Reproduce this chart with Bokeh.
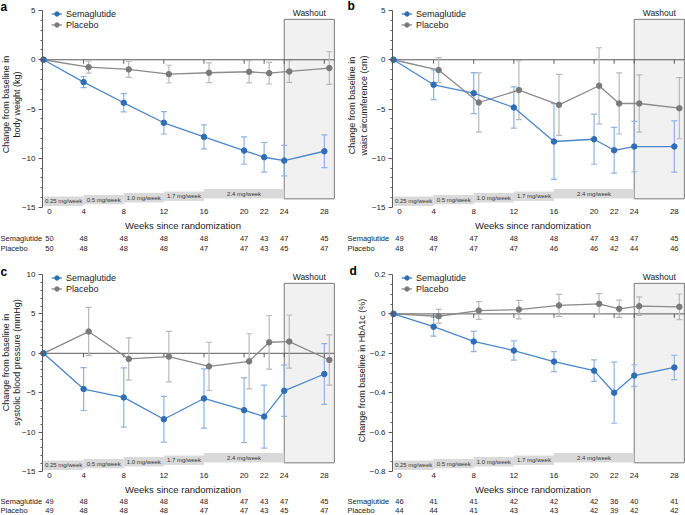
import math
from bokeh.plotting import figure
from bokeh.layouts import column, row
from bokeh.models import (ColumnDataSource, FixedTicker, Whisker, TeeHead, Range1d, LinearAxis)
from bokeh.embed import file_html
from bokeh.resources import INLINE
from bokeh.core.properties import value

FONT = "Liberation Sans"

# ---------------- data ----------------
weeks = [0, 4, 8, 12, 16, 20, 22, 24, 28]
dose_labels = ["0.25 mg/week", "0.5 mg/week", "1.0 mg/week", "1.7 mg/week", "2.4 mg/week"]
dose_start = [0, 4, 8, 12, 16]
dose_end = [4, 8, 12, 16, 24]
washout_start = 24
washout_end = 29

# a: body weight (kg)
a_sema = [0, -2.27, -4.37, -6.4, -7.83, -9.22, -9.9, -10.24, -9.29]
a_sema_ci = [0, 0.57, 0.93, 1.14, 1.22, 1.39, 1.5, 1.55, 1.66]
a_plac = [0, -0.75, -0.98, -1.46, -1.32, -1.22, -1.36, -1.19, -0.85]
a_plac_ci = [0, 0.6, 0.8, 0.9, 1.0, 1.13, 1.1, 1.1, 1.66]
a_n_sema = [50, 48, 48, 48, 48, 47, 43, 47, 45]
a_n_plac = [50, 48, 48, 48, 47, 47, 43, 45, 47]

# b: waist circumference (cm)
b_sema = [0, -2.54, -3.39, -4.85, -8.3, -8.07, -9.19, -8.81, -8.81]
b_sema_ci = [0, 1.5, 2.08, 2.1, 3.85, 2.54, 2.32, 2.56, 2.6]
b_plac = [0, -1.05, -4.34, -3.08, -4.58, -2.64, -4.44, -4.44, -4.92]
b_plac_ci = [0, 1.27, 3.0, 3.0, 3.1, 3.86, 3.1, 2.9, 3.1]
b_n_sema = [49, 48, 47, 48, 48, 47, 43, 47, 45]
b_n_plac = [48, 47, 47, 47, 46, 46, 42, 44, 46]

# c: systolic blood pressure (mmHg)
c_sema = [0, -4.54, -5.6, -8.37, -5.73, -7.22, -8.03, -4.76, -2.63]
c_sema_ci = [0, 2.72, 3.76, 2.9, 3.76, 4.1, 4.0, 3.25, 3.86]
c_plac = [0, 2.76, -0.72, -0.42, -1.66, -1.02, 1.4, 1.49, -0.85]
c_plac_ci = [0, 3.06, 2.68, 3.2, 3.06, 3.5, 3.4, 3.37, 3.2]
c_n_sema = [49, 48, 48, 48, 48, 47, 43, 47, 45]
c_n_plac = [49, 48, 48, 48, 47, 47, 43, 45, 47]

# d: HbA1c (%)
d_sema = [0, -0.065, -0.14, -0.186, -0.242, -0.288, -0.40, -0.313, -0.272]
d_sema_ci = [0, 0.048, 0.051, 0.049, 0.051, 0.055, 0.155, 0.055, 0.062]
d_plac = [0, -0.012, 0.017, 0.022, 0.043, 0.051, 0.026, 0.039, 0.036]
d_plac_ci = [0, 0.035, 0.045, 0.047, 0.056, 0.052, 0.044, 0.047, 0.065]
d_n_sema = [46, 41, 41, 42, 42, 42, 36, 40, 41]
d_n_plac = [44, 44, 41, 43, 43, 42, 39, 42, 42]

SEMA_LINE = "#4a86c8"
SEMA_PT = "#2f6db5"
SEMA_ERR = "#8db4e2"
PLAC_LINE = "#8a8a8a"
PLAC_PT = "#7a7a7a"
PLAC_ERR = "#b9b9b9"
AXIS = "#5a5a5a"
TXT = "#222222"

PX_PER_WEEK = 10.03
PLOT_H = 197


def make_panel(letter, ylabel, ymin, ymax, major, minor, sema, sema_ci, plac, plac_ci,
               n_sema, n_plac, W, H, x0px, top_px, ylab_pos, letter_pos, name_px, n_offs):
    rng = ymax - ymin
    sx = PX_PER_WEEK
    sy = PLOT_H / rng

    def X(px):
        return (px - x0px) / sx

    def Y(py):
        return ymax - (py - top_px) / sy

    bottom_px = top_px + PLOT_H
    p = figure(frame_width=W, frame_height=H, x_range=Range1d(X(0), X(W)),
               y_range=Range1d(Y(H), Y(0)), min_border=0,
               x_axis_location=None, y_axis_location=None,
               output_backend="svg", toolbar_location=None, outline_line_color=None)
    p.grid.visible = False

    # washout box
    p.quad(left=[washout_start], right=[washout_end], bottom=[ymin + 0.044 * rng],
           top=[ymin + 0.955 * rng], fill_color="#f1f1f1", line_color="#7a7a7a",
           line_width=1, level="image")
    p.text(x=[(washout_start + washout_end) / 2], y=[ymin + 0.962 * rng], text=["Washout"],
           text_align="center", text_baseline="bottom", text_font=value(FONT),
           text_font_size="8.5px", text_color=TXT)

    # dose escalation bars
    frac_b = [0.008, 0.016, 0.025, 0.033, 0.046]
    bots = [ymin + f * rng for f in frac_b]
    tops = [b + 0.048 * rng for b in bots]
    p.quad(left=dose_start, right=dose_end, bottom=bots, top=tops,
           fill_color="#d9d9d9", line_color=None, level="image")
    p.text(x=[(s + e) / 2 for s, e in zip(dose_start, dose_end)],
           y=[(b + t) / 2 for b, t in zip(bots, tops)], text=dose_labels,
           text_align="center", text_baseline="middle", text_font=value(FONT),
           text_font_size="6px", text_color="#333333")

    # zero line and its ticks
    p.segment(x0=[X(x0px - 1)], y0=[0], x1=[washout_end], y1=[0], line_color=AXIS,
              line_width=1, level="underlay")
    tick_len = 4.0 / sy
    p.segment(x0=weeks[1:], y0=[0] * (len(weeks) - 1), x1=weeks[1:],
              y1=[-tick_len] * (len(weeks) - 1), line_color=AXIS, line_width=1)

    xs_s = list(weeks)
    xs_p = [w + 0.5 if w > 0 else w for w in weeks]

    # error bars
    for xs, ys, ci, col in ((xs_p, plac, plac_ci, PLAC_ERR), (xs_s, sema, sema_ci, SEMA_ERR)):
        src = ColumnDataSource(dict(
            x=xs[1:], lo=[y - c for y, c in zip(ys[1:], ci[1:])],
            hi=[y + c for y, c in zip(ys[1:], ci[1:])]))
        w = Whisker(base="x", lower="lo", upper="hi", source=src, dimension="height",
                    line_color=col, line_width=1.2, level="underlay",
                    upper_head=TeeHead(size=6, line_color=col, line_width=1.2),
                    lower_head=TeeHead(size=6, line_color=col, line_width=1.2))
        p.add_layout(w)

    p.line(xs_p, plac, line_color=PLAC_LINE, line_width=1.3, legend_label="Placebo")
    p.scatter(xs_p, plac, size=5.5, fill_color=PLAC_PT, line_color=PLAC_PT,
              legend_label="Placebo")
    p.line(xs_s, sema, line_color=SEMA_LINE, line_width=1.3, legend_label="Semaglutide")
    p.scatter(xs_s, sema, size=5.5, fill_color=SEMA_PT, line_color=SEMA_PT,
              legend_label="Semaglutide")

    # legend
    lg = p.legend[0]
    lg.items = [lg.items[1], lg.items[0]]
    lg.location = (x0px + 8, H - (top_px - 2) - 22)
    lg.margin = 0
    lg.padding = 0
    lg.spacing = 0
    lg.label_height = 11
    lg.glyph_height = 11
    lg.glyph_width = 11
    lg.label_standoff = 4
    lg.label_text_font = FONT
    lg.label_text_font_size = "9px"
    lg.label_text_color = TXT
    lg.background_fill_alpha = 0
    lg.border_line_alpha = 0

    # y axis at week 0
    ya = LinearAxis(fixed_location=X(x0px - 1), bounds=(ymin, ymax))
    ya.ticker = FixedTicker(ticks=major, minor_ticks=minor)
    ya.major_label_overrides = {t: (("\u2212" + f"{abs(t):g}") if t < 0 else f"{t:g}")
                                for t in major}
    ya.axis_line_color = AXIS
    ya.major_tick_line_color = AXIS
    ya.minor_tick_line_color = AXIS
    ya.major_tick_in = 0
    ya.major_tick_out = 4
    ya.minor_tick_in = 0
    ya.minor_tick_out = 2
    ya.major_label_standoff = 3
    ya.major_label_text_font = FONT
    ya.major_label_text_font_size = "8px"
    ya.major_label_text_color = TXT
    p.add_layout(ya, "left")

    # x axis labels at the bottom of the plotting area
    xlab_pos = [0.6] + weeks[1:]
    xa = LinearAxis(fixed_location=ymin)
    xa.ticker = FixedTicker(ticks=xlab_pos, minor_ticks=[])
    xa.major_label_overrides = {pos: str(w) for pos, w in zip(xlab_pos, weeks)}
    xa.axis_line_color = None
    xa.major_tick_line_color = None
    xa.minor_tick_line_color = None
    xa.major_tick_out = 0
    xa.major_tick_in = 0
    xa.major_label_standoff = 1
    xa.major_label_text_font = FONT
    xa.major_label_text_font_size = "8px"
    xa.major_label_text_color = TXT
    p.add_layout(xa, "below")

    p.text(x=[13.9], y=[Y(bottom_px + 18)], text=["Weeks since randomization"],
           text_align="center", text_baseline="middle", text_font=value(FONT),
           text_font_size="9.5px", text_color=TXT)

    # y axis title
    p.text(x=[X(ylab_pos[0])], y=[Y(ylab_pos[1])], text=[ylabel], angle=math.pi / 2,
           text_align="center", text_baseline="middle", text_font=value(FONT),
           text_font_size="9px", text_color=TXT, text_line_height=1.15)

    # numbers of participants
    n_y1 = Y(bottom_px + n_offs[0])
    n_y2 = Y(bottom_px + n_offs[1])
    p.text(x=xlab_pos, y=[n_y1] * len(xlab_pos), text=[str(v) for v in n_sema],
           text_align="center", text_baseline="middle", text_font=value(FONT),
           text_font_size="7.5px", text_color=TXT)
    p.text(x=xlab_pos, y=[n_y2] * len(xlab_pos), text=[str(v) for v in n_plac],
           text_align="center", text_baseline="middle", text_font=value(FONT),
           text_font_size="7.5px", text_color=TXT)
    p.text(x=[X(name_px), X(name_px)], y=[n_y1, n_y2], text=["Semaglutide", "Placebo"],
           text_align="left", text_baseline="middle", text_font=value(FONT),
           text_font_size="7.5px", text_color=TXT)

    # panel letter
    p.text(x=[X(letter_pos[0])], y=[Y(letter_pos[1])], text=[letter], text_align="left",
           text_baseline="middle", text_font=value(FONT), text_font_size="12px",
           text_font_style="bold", text_color="#000000")
    return p


def int_minor(lo, hi, maj):
    return [v for v in range(lo, hi + 1) if v not in maj]


a_major = [-15, -10, -5, 0, 5]
pa = make_panel("a", "Change from baseline in\nbody weight (kg)", -15, 5, a_major,
                int_minor(-15, 5, a_major), a_sema, a_sema_ci, a_plac, a_plac_ci,
                a_n_sema, a_n_plac, 340, 258, 43, 10, (11, 104), (0, 6), 0, (31, 41))
pb = make_panel("b", "Change from baseline in\nwaist circumference (cm)", -15, 5, a_major,
                int_minor(-15, 5, a_major), b_sema, b_sema_ci, b_plac, b_plac_ci,
                b_n_sema, b_n_plac, 345, 258, 53, 10, (17.5, 105), (7, 5), 7, (31, 41))
c_major = [-15, -10, -5, 0, 5, 10]
pc = make_panel("c", "Change from baseline in\nsystolic blood pressure (mmHg)", -15, 10,
                c_major, int_minor(-15, 10, c_major), c_sema, c_sema_ci, c_plac, c_plac_ci,
                c_n_sema, c_n_plac, 340, 257, 43, 16, (11, 104), (0, 13), 0, (30, 38.5))
d_major = [-0.8, -0.6, -0.4, -0.2, 0, 0.2]
d_minor = [round(-0.8 + 0.05 * i, 2) for i in range(21)]
d_minor = [v for v in d_minor if all(abs(v - m) > 1e-9 for m in d_major)]
pd_ = make_panel("d", "Change from baseline in HbA1c (%)", -0.8, 0.2, d_major, d_minor,
                 d_sema, d_sema_ci, d_plac, d_plac_ci, d_n_sema, d_n_plac,
                 345, 257, 53, 16, (21, 112), (9, 12), 7, (30, 38.5))

layout = column(row(pa, pb), row(pc, pd_))
open("out.html", "w").write(file_html(layout, INLINE))
